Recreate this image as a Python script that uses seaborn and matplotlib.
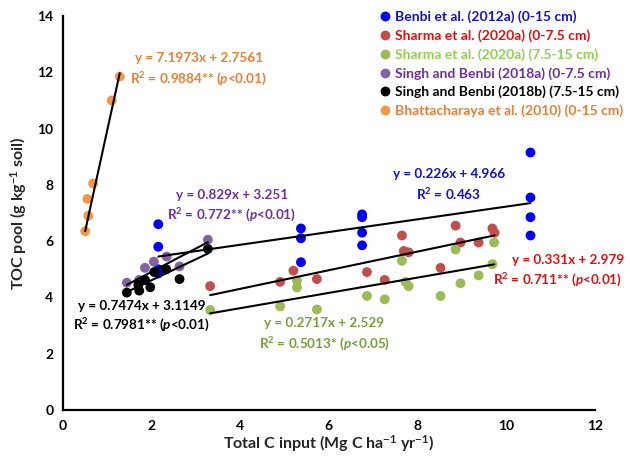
import numpy as np
import pandas as pd
import matplotlib
matplotlib.use("Agg")
import matplotlib.pyplot as plt
import seaborn as sns

# ---------------- data ----------------
series_names = [
    "Benbi et al. (2012a) (0-15 cm)",
    "Sharma et al. (2020a) (0-7.5 cm)",
    "Sharma et al. (2020a) (7.5-15 cm)",
    "Singh and Benbi (2018a) (0-7.5 cm)",
    "Singh and Benbi (2018b) (7.5-15 cm)",
    "Bhattacharaya et al. (2010) (0-15 cm)",
]

benbi_x = [2.15, 2.15, 2.15, 2.15, 5.37, 5.37, 5.37, 6.75, 6.75, 6.75, 6.75, 10.55, 10.55, 10.55, 10.55]
benbi_y = [6.6, 5.8, 5.0, 4.85, 6.45, 6.1, 5.25, 6.95, 6.85, 6.3, 5.85, 9.15, 7.55, 6.85, 6.2]

sharma1_x = [3.32, 4.9, 5.2, 5.73, 6.86, 7.26, 7.65, 7.69, 7.8, 8.52, 8.86, 8.97, 9.38, 9.69, 9.74]
sharma1_y = [4.4, 4.55, 4.95, 4.65, 4.9, 4.62, 6.2, 5.65, 5.6, 5.05, 6.55, 5.95, 5.95, 6.45, 6.3]

sharma2_x = [3.32, 4.9, 5.28, 5.28, 5.73, 6.86, 7.26, 7.65, 7.73, 7.8, 8.52, 8.86, 8.97, 9.38, 9.69, 9.73]
sharma2_y = [3.55, 3.68, 4.6, 4.35, 3.57, 4.05, 3.93, 5.3, 4.55, 4.4, 4.05, 5.7, 4.5, 4.78, 5.18, 5.95]

singha_x = [1.44, 1.72, 1.85, 2.05, 2.34, 2.63, 3.27]
singha_y = [4.52, 4.62, 5.05, 5.27, 5.45, 5.1, 6.05]

singhb_x = [1.44, 1.70, 1.72, 1.85, 1.97, 2.06, 2.33, 2.63, 3.27]
singhb_y = [4.17, 4.45, 4.24, 4.62, 4.36, 4.9, 5.0, 4.65, 5.72]

bhatt_x = [0.5, 0.57, 0.55, 0.68, 1.1, 1.28]
bhatt_y = [6.35, 6.9, 7.5, 8.05, 11.0, 11.85]

slopes = [0.226, 0.331, 0.2717, 0.829, 0.7474, 7.1973]
intercepts = [4.966, 2.979, 2.529, 3.251, 3.1149, 2.7561]

eq_texts = [
    "y = 0.226x + 4.966",
    "y = 0.331x + 2.979",
    "y = 0.2717x + 2.529",
    "y = 0.829x + 3.251",
    "y = 0.7474x + 3.1149",
    "y = 7.1973x + 2.7561",
]
r2_texts = [
    r"R$^{2}$ = 0.463",
    r"R$^{2}$ = 0.711** ($\mathit{p}$<0.01)",
    r"R$^{2}$ = 0.5013* ($\mathit{p}$<0.05)",
    r"R$^{2}$ = 0.772** ($\mathit{p}$<0.01)",
    r"R$^{2}$ = 0.7981** ($\mathit{p}$<0.01)",
    r"R$^{2}$ = 0.9884** ($\mathit{p}$<0.01)",
]

xs = [benbi_x, sharma1_x, sharma2_x, singha_x, singhb_x, bhatt_x]
ys = [benbi_y, sharma1_y, sharma2_y, singha_y, singhb_y, bhatt_y]

# ---------------- style ----------------
point_colors = ["#0000F0", "#C0504D", "#9BBB59", "#8064A2", "#000000", "#F79646"]
legend_text_colors = ["#1010D8", "#E01010", "#92D050", "#7030A0", "#000000", "#ED7D31"]
annot_colors = ["#1010D8", "#E01010", "#77A03C", "#7030A0", "#000000", "#ED7D31"]
# annotation positions: (eq_x, eq_y, r2_x, r2_y) in data units
annot_pos = [
    (8.72, 8.39, 8.71, 7.67),
    (11.41, 5.33, 11.16, 4.62),
    (5.90, 3.09, 5.90, 2.31),
    (3.81, 7.64, 3.81, 6.93),
    (1.77, 3.70, 1.77, 2.99),
    (3.07, 12.51, 3.05, 11.73),
]

sns.set_style("white")
plt.rcParams["font.family"] = ["Lato", "DejaVu Sans"]
plt.rcParams["font.weight"] = "bold"
plt.rcParams["mathtext.fontset"] = "custom"
plt.rcParams["mathtext.rm"] = "Lato:bold"
plt.rcParams["mathtext.it"] = "Lato:italic:bold"
plt.rcParams["mathtext.bf"] = "Lato:bold"

frames = []
for name, x, y in zip(series_names, xs, ys):
    frames.append(pd.DataFrame({"x": x, "y": y, "study": name}))
df = pd.concat(frames, ignore_index=True)

fig = plt.figure(figsize=(6.3, 4.59), dpi=100)
ax = fig.add_axes([0.1, 0.107, 0.844, 0.858])

sns.scatterplot(data=df, x="x", y="y", hue="study", hue_order=series_names,
                palette=point_colors, s=50, edgecolor="none", linewidth=0,
                ax=ax, zorder=2)

# regression lines from the printed equations over each data range
for x, m, b in zip(xs, slopes, intercepts):
    xx = np.array([min(x), max(x)])
    ax.plot(xx, m * xx + b, color="black", lw=1.5, zorder=3)

for (ex, ey, rx, ry), eq, r2, c in zip(annot_pos, eq_texts, r2_texts, annot_colors):
    ax.text(ex, ey, eq, color=c, fontsize=9.7, fontweight="bold", ha="center", va="center")
    ax.text(rx, ry, r2, color=c, fontsize=9.7, fontweight="bold", ha="center", va="center")

ax.set_xlim(0, 12)
ax.set_ylim(0, 14)
ax.set_xticks(range(0, 13, 2))
ax.set_yticks(range(0, 15, 2))
for s in ["top", "right"]:
    ax.spines[s].set_visible(False)
for s in ["left", "bottom"]:
    ax.spines[s].set_linewidth(1.6)
    ax.spines[s].set_color("black")
ax.tick_params(axis="both", direction="out", length=4, width=1.5, colors="black",
               labelsize=10, pad=3)
for lab in ax.get_xticklabels() + ax.get_yticklabels():
    lab.set_fontweight("bold")

ax.set_xlabel(r"Total C input (Mg C ha$^{-1}$ yr$^{-1}$)", fontsize=11.5, fontweight="bold", labelpad=1)
ax.set_ylabel(r"TOC pool (g kg$^{-1}$ soil)", fontsize=11.5, fontweight="bold", labelpad=6)

handles, labels = ax.get_legend_handles_labels()
leg = ax.legend(handles, labels, loc="upper left", bbox_to_anchor=(0.598, 0.978),
                bbox_transform=fig.transFigure, frameon=False, fontsize=10,
                handletextpad=0.1, labelspacing=0.45, borderaxespad=0, borderpad=0,
                handlelength=1.2)
for t, c in zip(leg.get_texts(), legend_text_colors):
    t.set_color(c)
    t.set_fontweight("bold")

fig.savefig("out.png", dpi=100)
